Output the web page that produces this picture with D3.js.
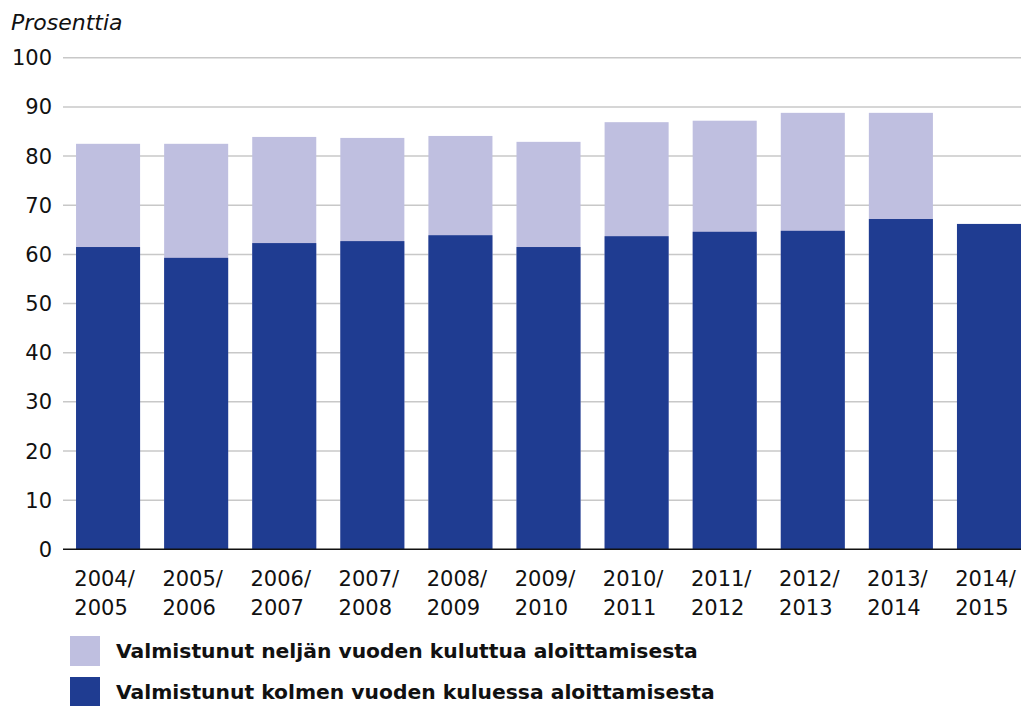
<!DOCTYPE html>
<meta charset="utf-8">
<body style="margin:0;background:#fff">
<div id="chart"></div>
<style>
text { font-family: "DejaVu Sans", sans-serif; fill: #111; }
.grid line { stroke: #c8c8c8; stroke-width: 1.5px; }
</style>
<script src="https://d3js.org/d3.v7.min.js"></script>
<script>
// lukuvuodet
const years = ["2004/2005", "2005/2006", "2006/2007", "2007/2008", "2008/2009", "2009/2010",
	"2010/2011", "2011/2012", "2012/2013", "2013/2014", "2014/2015"];
// kolmen vuoden kuluessa (%)
const within3 = [61.5, 59.3, 62.3, 62.7, 63.9, 61.5, 63.7, 64.6, 64.8, 67.2, 66.2];
// neljän vuoden kuluttua, kumulatiivinen (%)
const within4 = [82.5, 82.5, 83.9, 83.7, 84.1, 82.9, 86.9, 87.2, 88.8, 88.8, null];
const yTicks = [0, 10, 20, 30, 40, 50, 60, 70, 80, 90, 100];
const legendLabels = ["Valmistunut neljän vuoden kuluttua aloittamisesta",
	"Valmistunut kolmen vuoden kuluessa aloittamisesta"];

const width = 1026, height = 706;
const colDark = "#1f3c91", colLight = "#bfbfe0";

const svg = d3.select("#chart").append("svg")
	.attr("width", width)
	.attr("height", height);

const x = d3.scaleBand()
	.domain(years)
	.range([63, 1021])
	.paddingInner(0.273)
	.paddingOuter(0.074)
	.align(1);

const y = d3.scaleLinear()
	.domain([0, 100])
	.range([549.3, 57.8]);

// gridlines
svg.append("g").attr("class", "grid")
	.selectAll("line")
	.data(yTicks.filter(d => d > 0))
	.enter().append("line")
	.attr("x1", 63).attr("x2", 1021)
	.attr("y1", d => y(d)).attr("y2", d => y(d));

// y labels
svg.append("g")
	.selectAll("text")
	.data(yTicks)
	.enter().append("text")
	.attr("x", 52)
	.attr("y", d => y(d) + 7.5)
	.attr("text-anchor", "end")
	.style("font-size", "21px")
	.text(d => d);

svg.append("text")
	.attr("x", 11).attr("y", 30)
	.style("font-size", "22px")
	.style("font-style", "italic")
	.text("Prosenttia");

// light bars (four years)
svg.append("g")
	.selectAll("rect")
	.data(years.map((d, i) => ({ year: d, v: within4[i] })).filter(d => d.v != null))
	.enter().append("rect")
	.attr("x", d => x(d.year))
	.attr("width", x.bandwidth())
	.attr("y", d => y(d.v))
	.attr("height", d => y(0) - y(d.v))
	.attr("fill", colLight);

// dark bars (three years)
svg.append("g")
	.selectAll("rect")
	.data(years.map((d, i) => ({ year: d, v: within3[i] })))
	.enter().append("rect")
	.attr("x", d => x(d.year))
	.attr("width", x.bandwidth())
	.attr("y", d => y(d.v))
	.attr("height", d => y(0) - y(d.v))
	.attr("fill", colDark);

// baseline
svg.append("line")
	.attr("x1", 63).attr("x2", 1021)
	.attr("y1", y(0)).attr("y2", y(0))
	.attr("stroke", "#111")
	.attr("stroke-width", 1.5);

// category labels, two lines
const cat = svg.append("g")
	.selectAll("text")
	.data(years)
	.enter().append("text")
	.attr("text-anchor", "middle")
	.style("font-size", "21px");
cat.append("tspan")
	.attr("x", d => x(d) + x.bandwidth() / 2 - 3.5)
	.attr("y", 585.5)
	.text(d => d.split("/")[0] + "/");
cat.append("tspan")
	.attr("x", d => x(d) + x.bandwidth() / 2 - 7)
	.attr("y", 614.5)
	.text(d => d.split("/")[1]);

// legend
const leg = svg.append("g")
	.selectAll("g")
	.data(legendLabels)
	.enter().append("g")
	.attr("transform", (d, i) => "translate(70," + (636 + i * 41) + ")");
leg.append("rect")
	.attr("width", 30).attr("height", 30)
	.attr("fill", (d, i) => i === 0 ? colLight : colDark);
leg.append("text")
	.attr("x", 46).attr("y", 22)
	.style("font-size", "20.3px")
	.style("font-weight", "bold")
	.text(d => d);
</script>
</body>
